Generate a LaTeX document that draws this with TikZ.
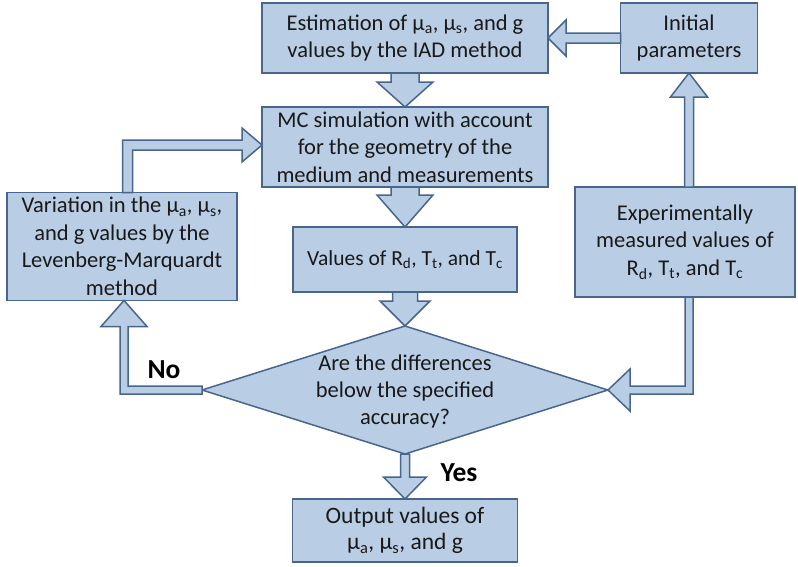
\documentclass[tikz,border=0pt]{standalone}
\usepackage{fontspec}
\setmainfont{Carlito}
\usetikzlibrary{shapes.geometric,calc}
\definecolor{boxfill}{RGB}{185,205,229}
\definecolor{bord}{RGB}{72,102,140}
\definecolor{txt}{RGB}{25,25,25}
\newcommand{\sub}[1]{\textsubscript{#1}}
\tikzset{
  box/.style={draw=bord, fill=boxfill, line width=1.5pt, inner sep=0pt, outer sep=0pt,
    align=center, text=txt, font=\fontsize{22.5}{27.5}\selectfont},
  dia/.style={diamond, draw=bord, fill=boxfill, line width=1.5pt, inner sep=0pt, outer sep=0pt},
  diatext/.style={align=center, text=txt, font=\fontsize{22.5}{27}\selectfont},
  barrow/.style={draw=bord, fill=boxfill, line width=1.5pt, line join=miter},
  lbl/.style={text=black, font=\fontsize{27.5}{32}\selectfont\bfseries}
}
\begin{document}
\begin{tikzpicture}[x=1pt,y=-1pt]
\useasboundingbox (0,0) rectangle (798,566);
% boxes
\node[box, minimum width=286pt, minimum height=70pt] (A) at (405,38)
  {Estimation of μ\sub{a}, μ\sub{s}, and g\\values by the IAD method};
\node[box, minimum width=137pt, minimum height=70pt] (I) at (689,38)
  {Initial\\parameters};
\node[box, minimum width=286pt, minimum height=80pt] (B) at (405,147)
  {MC simulation with account\\for the geometry of the\\medium and measurements};
\node[box, minimum width=224pt, minimum height=65pt, font=\fontsize{21.5}{26}\selectfont] (C) at (405,259.5)
  {Values of R\sub{d}, T\sub{t}, and T\sub{c}};
\node[box, minimum width=230pt, minimum height=108pt] (V) at (122,246.5)
  {Variation in the μ\sub{a}, μ\sub{s},\\and g values by the\\Levenberg-Marquardt\\method};
\node[box, minimum width=220pt, minimum height=110pt] (E) at (685,242)
  {Experimentally\\measured values of\\R\sub{d}, T\sub{t}, and T\sub{c}};
\node[dia, minimum width=406pt, minimum height=128pt] (D) at (405,390) {};
\node[diatext] (Dt) at ($(D)+(0,1)$) {Are the differences\\below the specified\\accuracy?};
\node[box, minimum width=225pt, minimum height=63pt, font=\fontsize{23.5}{25.5}\selectfont] (O) at (405,530.5)
  {Output values of\\μ\sub{a}, μ\sub{s}, and g};
% helper coordinates
\coordinate (vt) at ($(V.south)+(2,0)$);
\coordinate (vs) at ($(V.north)+(5.5,0)$);
\coordinate (bt) at ($(B.west)+(0,-2)$);
% A -> B
\draw[barrow] ($(A.south)+(-14,0)$) -- ($(B.north)+(-14,-25)$) -- ($(B.north)+(-28,-25)$) -- (B.north)
  -- ($(B.north)+(28,-25)$) -- ($(B.north)+(14,-25)$) -- ($(A.south)+(14,0)$) -- cycle;
% B -> C
\draw[barrow] ($(B.south)+(-14,0)$) -- ($(C.north)+(-14,-32)$) -- ($(C.north)+(-28,-32)$) -- (C.north)
  -- ($(C.north)+(28,-32)$) -- ($(C.north)+(14,-32)$) -- ($(B.south)+(14,0)$) -- cycle;
% C -> D
\draw[barrow] ($(C.south)+(-12.5,0)$) -- ($(D.north)+(-12.5,-25)$) -- ($(D.north)+(-25,-25)$) -- (D.north)
  -- ($(D.north)+(25,-25)$) -- ($(D.north)+(12.5,-25)$) -- ($(C.south)+(12.5,0)$) -- cycle;
% D -> O
\draw[barrow] ($(D.south)+(-4.5,0)$) -- ($(O.north)+(-4.5,-22)$) -- ($(O.north)+(-21.5,-22)$) -- (O.north)
  -- ($(O.north)+(21.5,-22)$) -- ($(O.north)+(4.5,-22)$) -- ($(D.south)+(4.5,0)$) -- cycle;
% I -> A
\draw[barrow] ($(I.west)+(0,-5)$) -- ($(A.east)+(18,-5)$) -- ($(A.east)+(18,-18)$) -- (A.east)
  -- ($(A.east)+(18,18)$) -- ($(A.east)+(18,5)$) -- ($(I.west)+(0,5)$) -- cycle;
% E -> I
\draw[barrow] ($(I.south |- E.north)+(-4.5,0)$) -- ($(I.south)+(-4.5,24)$) -- ($(I.south)+(-18.5,24)$) -- (I.south)
  -- ($(I.south)+(18.5,24)$) -- ($(I.south)+(4.5,24)$) -- ($(I.south |- E.north)+(4.5,0)$) -- cycle;
% E -> D
\draw[barrow] ($(I.south |- E.south)+(-4,0)$) -- ($(I.south |- D.east)+(-4,-4)$) -- ($(D.east)+(22,-4)$)
  -- ($(D.east)+(22,-21)$) -- (D.east) -- ($(D.east)+(22,21)$) -- ($(D.east)+(22,4)$)
  -- ($(I.south |- D.east)+(4,4)$) -- ($(I.south |- E.south)+(4,0)$) -- cycle;
% D -> V
\draw[barrow] ($(D.west)+(0,-4)$) -- ($(vt |- D.west)+(4,-4)$) -- ($(vt)+(4,26)$) -- ($(vt)+(23,26)$) -- (vt)
  -- ($(vt)+(-23,26)$) -- ($(vt)+(-4,26)$) -- ($(vt |- D.west)+(-4,4)$) -- ($(D.west)+(0,4)$) -- cycle;
% V -> B
\draw[barrow] ($(vs)+(-5,0)$) -- ($(vs |- bt)+(-5,-5)$) -- ($(bt)+(-20,-5)$) -- ($(bt)+(-20,-17)$) -- (bt)
  -- ($(bt)+(-20,17)$) -- ($(bt)+(-20,5)$) -- ($(vs |- bt)+(5,5)$) -- ($(vs)+(5,0)$) -- cycle;
% labels
\node[lbl] (no) at (164,370) {No};
\node[lbl] (yes) at (459,473) {Yes};
\end{tikzpicture}
\end{document}
